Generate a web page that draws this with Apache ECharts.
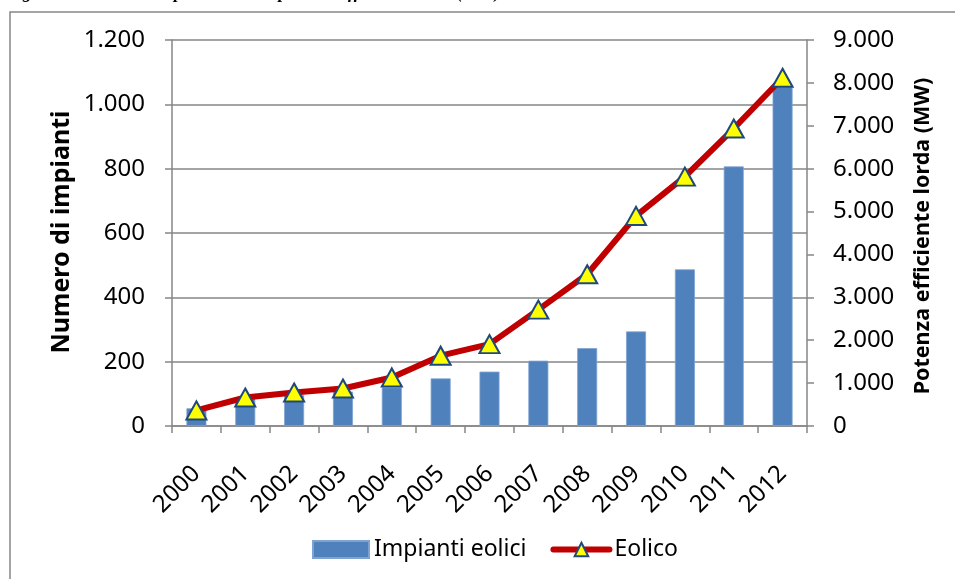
<!DOCTYPE html>
<html>
<head>
<meta charset="utf-8">
<script src="https://cdn.jsdelivr.net/npm/echarts@6/dist/echarts.min.js"></script>
<style>
html,body{margin:0;padding:0;background:#fff;}
#chart{width:955px;height:579px;}
</style>
</head>
<body>
<div id="chart"></div>
<script>
const years = ['2000','2001','2002','2003','2004','2005','2006','2007','2008','2009','2010','2011','2012'];
const impianti = [55, 88, 96, 107, 120, 148, 169, 203, 242, 294, 487, 807, 1054];
const potenza = [363, 664, 780, 874, 1131, 1639, 1908, 2714, 3538, 4898, 5814, 6936, 8119];
const leftTicks = [0, 200, 400, 600, 800, 1000, 1200];
const rightTicks = [0, 1000, 2000, 3000, 4000, 5000, 6000, 7000, 8000, 9000];

const FONT = '"Noto Sans", sans-serif';
const GRAY = '#868686';
function fmt(v){ return String(v).replace(/\B(?=(\d{3})+(?!\d))/g, '.'); }

const chart = echarts.init(document.getElementById('chart'), null, {renderer:'canvas'});
chart.setOption({
  animation: false,
  backgroundColor: '#fff',
  graphic: [
    {type:'rect', z:-10, silent:true, shape:{x:10, y:12, width:960, height:600},
     style:{fill:'none', stroke:GRAY, lineWidth:1.5}},
    {type:'text', left:6, top:-16, silent:true,
     style:{text:'Figura 3 – Numero impianti eolici e potenza efficiente lorda (MW)',
            font:'italic bold 18px "Liberation Serif", serif', fill:'#000'}},
    {type:'text', x:62, y:232, rotation:Math.PI/2, silent:true,
     style:{text:'Numero di impianti', font:'bold 25px ' + FONT, fill:'#000', align:'center', verticalAlign:'middle'}},
    {type:'text', x:923, y:236, rotation:Math.PI/2, silent:true,
     style:{text:'Potenza efficiente lorda (MW)', font:'bold 21.5px ' + FONT, fill:'#000', align:'center', verticalAlign:'middle'}}
  ],
  grid: {left:172, right:148, top:40, bottom:153, containLabel:false},
  legend: {
    left: 307, top: 533, itemWidth: 56, itemHeight: 17, itemGap: 24,
    textStyle: {fontFamily: FONT, fontSize: 23, color: '#000'},
    lineStyle: {width: 6, color:'#C00000', cap:'round'},
    data: [
      {name:'Impianti eolici', icon:'rect'},
      {name:'Eolico'}
    ]
  },
  xAxis: {
    type: 'category', data: years, boundaryGap: true,
    axisLine: {lineStyle:{color:GRAY, width:1.5}},
    axisTick: {show:true, alignWithLabel:false, length:7, lineStyle:{color:GRAY, width:1.5}},
    axisLabel: {rotate:45, margin:44, fontFamily:FONT, fontSize:24, color:'#000', interval:0},
    splitLine: {show:false}
  },
  yAxis: [
    {
      type:'value', min:leftTicks[0], max:leftTicks[leftTicks.length-1], interval:leftTicks[1]-leftTicks[0],
      position:'left',
      axisLine:{show:true, lineStyle:{color:GRAY, width:1.5}},
      axisTick:{show:true, length:7, lineStyle:{color:GRAY, width:1.5}},
      axisLabel:{margin:27, fontFamily:FONT, fontSize:24, color:'#000', formatter:fmt},
      splitLine:{show:true, lineStyle:{color:GRAY, width:1.5}}
    },
    {
      type:'value', min:rightTicks[0], max:rightTicks[rightTicks.length-1], interval:rightTicks[1]-rightTicks[0],
      position:'right',
      axisLine:{show:true, lineStyle:{color:GRAY, width:1.5}},
      axisTick:{show:true, length:7, lineStyle:{color:GRAY, width:1.5}},
      axisLabel:{margin:26, fontFamily:FONT, fontSize:24, color:'#000', formatter:fmt},
      splitLine:{show:false}
    }
  ],
  series: [
    {
      name:'Impianti eolici', type:'bar', yAxisIndex:0, data:impianti, barWidth:20,
      itemStyle:{color:'#4F81BD', borderColor:'#7FA3D1', borderWidth:0.8}
    },
    {
      name:'Eolico', type:'line', yAxisIndex:1, data:potenza, z:5,
      lineStyle:{color:'#C00000', width:6},
      symbol:'triangle', symbolSize:[20,18], showAllSymbol:true,
      itemStyle:{color:'#FFFF00', borderColor:'#1F497D', borderWidth:2}
    }
  ]
});
</script>
</body>
</html>
